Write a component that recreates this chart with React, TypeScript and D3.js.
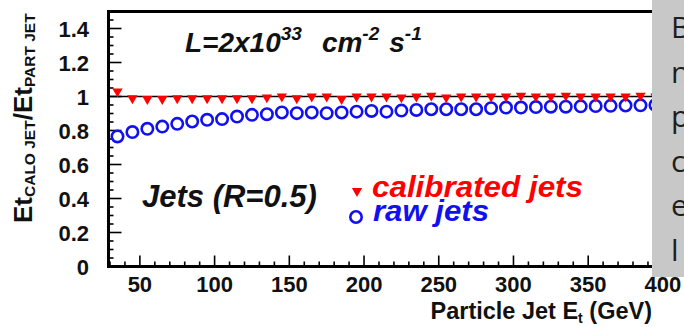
import React from "react";
import * as d3 from "d3";

const energies = [35, 45, 55, 65, 75, 85, 95, 105, 115, 125, 135, 145, 155, 165, 175, 185, 195, 205, 215, 225, 235, 245, 255, 265, 275, 285, 295, 305, 315, 325, 335, 345, 355, 365, 375, 385, 395];
const calibrated = [1.03, 0.99, 0.985, 0.985, 0.99, 0.99, 0.99, 0.99, 0.99, 0.99, 0.995, 1.0, 0.99, 1.0, 1.0, 0.985, 1.0, 1.0, 1.0, 0.995, 1.0, 1.005, 0.995, 1.0, 1.0, 1.0, 1.0, 1.005, 1.0, 1.0, 1.005, 1.0, 1.0, 1.0, 1.0, 1.005, 1.0];
const raw = [0.765, 0.791, 0.81, 0.823, 0.839, 0.853, 0.863, 0.867, 0.882, 0.892, 0.896, 0.906, 0.902, 0.906, 0.902, 0.906, 0.911, 0.915, 0.911, 0.917, 0.921, 0.925, 0.925, 0.925, 0.925, 0.931, 0.935, 0.935, 0.938, 0.94, 0.94, 0.942, 0.944, 0.945, 0.947, 0.948, 0.95];
const xTickLabels = [50, 100, 150, 200, 250, 300, 350, 400];
const yTickLabels = ["0", "0.2", "0.4", "0.6", "0.8", "1", "1.2", "1.4"];
const sideLetters = ["B", "n", "p", "c", "e", "l"];

const FONT = "'Liberation Sans', Arial, Helvetica, sans-serif";

export default function App() {
  const W = 684, H = 327;
  const x = d3.scaleLinear().domain([29, 420]).range([108.5, 692.8]);
  const y = d3.scaleLinear().domain([0, 1.5]).range([266.5, 11.5]);
  const left = x(29), bottom = y(0), top = y(1.5), right = x(420);

  const xMinor = d3.range(30, 421, 10);
  const yMinor = d3.range(0, 1.5001, 0.05);

  const tri = d3.symbol().type(d3.symbolTriangle).size(46)();

  return (
    <svg width={W} height={H} style={{ position: "absolute", left: 0, top: 0, background: "#fff" }}>
      <rect x={0} y={0} width={W} height={H} fill="#fff" />
      {/* y axis title */}
      <g transform={`translate(32,223) rotate(-90)`} fontFamily={FONT} fontWeight="bold" fill="#111">
        <text x={0} y={0}>
          <tspan fontSize={26}>Et</tspan>
          <tspan fontSize={15.5} dy={3}>CALO JET</tspan>
          <tspan fontSize={26} dy={-3}>/Et</tspan>
          <tspan fontSize={15.5} dy={3}>PART JET</tspan>
        </text>
      </g>
      {/* y=1 line */}
      <line x1={left} x2={right} y1={y(1)} y2={y(1)} stroke="#000" strokeWidth={1.6} />
      {/* ticks */}
      {xMinor.map((v) => (
        <line key={"xm" + v} x1={x(v)} x2={x(v)} y1={bottom} y2={bottom - (v % 50 === 0 ? 11 : 5)} stroke="#000" strokeWidth={1.6} />
      ))}
      {yMinor.map((v, i) => (
        <line key={"ym" + i} x1={left} x2={left + (i % 4 === 0 ? 13 : 5)} y1={y(v)} y2={y(v)} stroke="#000" strokeWidth={1.6} />
      ))}
      {/* data */}
      {energies.map((e, i) => (
        <circle key={"r" + i} cx={x(e)} cy={y(raw[i])} r={5.7} fill="none" stroke="#1010f0" strokeWidth={2.6} />
      ))}
      {energies.map((e, i) => (
        <path key={"c" + i} d={tri} transform={`translate(${x(e)},${y(calibrated[i])}) rotate(180)`} fill="#ff0000" />
      ))}
      {/* frame */}
      <path d={`M${left},${bottom} L${left},${top} L${right},${top}`} fill="none" stroke="#000" strokeWidth={3} />
      <line x1={left - 1.5} x2={right} y1={bottom} y2={bottom} stroke="#000" strokeWidth={3} />
      {/* tick labels */}
      {xTickLabels.map((v) => (
        <text key={"xl" + v} x={x(v)} y={292} textAnchor="middle" fontFamily={FONT} fontWeight="bold" fontSize={22} fill="#111">{v}</text>
      ))}
      {yTickLabels.map((s, i) => (
        <text key={"yl" + i} x={89} y={y(i * 0.2) + 8} textAnchor="end" fontFamily={FONT} fontWeight="bold" fontSize={22} fill="#111">{s}</text>
      ))}
      {/* x title */}
      <text x={652} y={319} textAnchor="end" fontFamily={FONT} fontWeight="bold" fontSize={23.5} fill="#111">
        <tspan>Particle Jet E</tspan>
        <tspan fontSize={14} dy={4}>t</tspan>
        <tspan dy={-4}> (GeV)</tspan>
      </text>
      {/* luminosity */}
      <text x={185} y={52} fontFamily={FONT} fontWeight="bold" fontStyle="italic" fontSize={28} fill="#111">
        <tspan>L=2x10</tspan>
        <tspan fontSize={19} dy={-12}>33</tspan>
        <tspan dy={12} dx={20}>cm</tspan>
        <tspan fontSize={19} dy={-12}>-2</tspan>
        <tspan dy={12} dx={10}>s</tspan>
        <tspan fontSize={19} dy={-12}>-1</tspan>
      </text>
      <text x={142} y={207} fontFamily={FONT} fontWeight="bold" fontStyle="italic" fontSize={31} fill="#111">Jets (R=0.5)</text>
      {/* legend */}
      <path d={tri} transform={`translate(357,191) rotate(180)`} fill="#ff0000" />
      <circle cx={356} cy={217} r={5.7} fill="none" stroke="#1010f0" strokeWidth={2.6} />
      <text x={372} y={197} fontFamily={FONT} fontWeight="bold" fontStyle="italic" fontSize={29} textLength={211} lengthAdjust="spacingAndGlyphs" fill="#ff0000">calibrated jets</text>
      <text x={373} y={221} fontFamily={FONT} fontWeight="bold" fontStyle="italic" fontSize={29} textLength={116} lengthAdjust="spacingAndGlyphs" fill="#1010f0">raw jets</text>
      {/* overlapping gray box */}
      <rect x={652} y={0} width={40} height={277} fill="#c8c8c8" />
      {sideLetters.map((s, i) => (
        <text key={"s" + i} x={671} y={38 + i * 44.5} fontFamily="'Open Sans', 'Noto Sans', sans-serif" fontSize={30} fill="#1e1e1e">{s}</text>
      ))}
    </svg>
  );
}
